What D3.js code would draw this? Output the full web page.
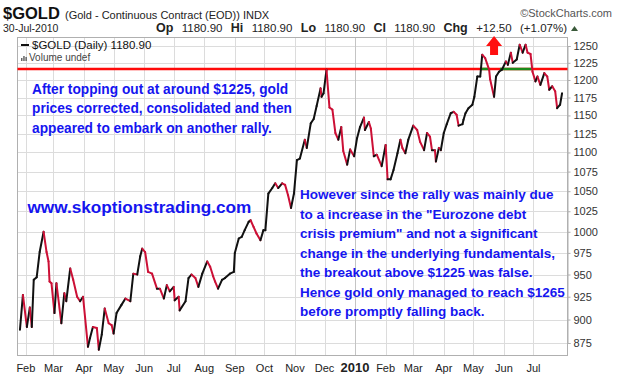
<!DOCTYPE html>
<html><head><meta charset="utf-8">
<script src="https://cdn.jsdelivr.net/npm/d3@7"></script>
<style>body{margin:0;background:#fff}svg{display:block}text{font-family:"Liberation Sans",Arial,sans-serif}</style>
</head><body><svg id="c" width="620" height="379"></svg>
<script>
// ---- data ----
const dates = ["2009-01-26","2009-01-29","2009-02-02","2009-02-05","2009-02-07","2009-02-09","2009-02-12","2009-02-15","2009-02-19","2009-02-22","2009-02-24","2009-02-25","2009-02-27","2009-03-02","2009-03-04","2009-03-09","2009-03-12","2009-03-14","2009-03-18","2009-03-21","2009-03-25","2009-03-28","2009-03-31","2009-04-05","2009-04-07","2009-04-10","2009-04-14","2009-04-16","2009-04-19","2009-04-22","2009-04-26","2009-04-29","2009-05-01","2009-05-04","2009-05-09","2009-05-13","2009-05-18","2009-05-21","2009-05-25","2009-05-28","2009-05-30","2009-06-02","2009-06-05","2009-06-09","2009-06-14","2009-06-17","2009-06-21","2009-06-24","2009-06-27","2009-07-01","2009-07-02","2009-07-06","2009-07-07","2009-07-13","2009-07-16","2009-07-19","2009-07-23","2009-07-26","2009-07-30","2009-08-04","2009-08-07","2009-08-10","2009-08-12","2009-08-15","2009-08-19","2009-08-22","2009-08-27","2009-08-31","2009-09-01","2009-09-05","2009-09-08","2009-09-11","2009-09-15","2009-09-17","2009-09-20","2009-09-23","2009-09-27","2009-09-30","2009-10-02","2009-10-05","2009-10-09","2009-10-12","2009-10-15","2009-10-19","2009-10-22","2009-10-25","2009-10-28","2009-10-31","2009-11-03","2009-11-06","2009-11-11","2009-11-13","2009-11-17","2009-11-20","2009-11-23","2009-11-27","2009-11-28","2009-11-30","2009-12-03","2009-12-06","2009-12-09","2009-12-12","2009-12-15","2009-12-18","2009-12-20","2009-12-24","2009-12-27","2009-12-31","2010-01-03","2010-01-06","2010-01-10","2010-01-11","2010-01-15","2010-01-17","2010-01-20","2010-01-23","2010-01-28","2010-02-01","2010-02-03","2010-02-06","2010-02-09","2010-02-13","2010-02-16","2010-02-18","2010-02-21","2010-02-24","2010-03-01","2010-03-05","2010-03-08","2010-03-12","2010-03-15","2010-03-18","2010-03-20","2010-03-23","2010-03-24","2010-03-27","2010-03-29","2010-04-01","2010-04-04","2010-04-08","2010-04-11","2010-04-14","2010-04-16","2010-04-20","2010-04-21","2010-04-23","2010-04-26","2010-04-30","2010-05-02","2010-05-05","2010-05-08","2010-05-10","2010-05-13","2010-05-17","2010-05-18","2010-05-22","2010-05-24","2010-05-27","2010-05-30","2010-06-03","2010-06-05","2010-06-08","2010-06-10","2010-06-14","2010-06-17","2010-06-20","2010-06-23","2010-06-25","2010-06-28","2010-06-30","2010-07-03","2010-07-05","2010-07-08","2010-07-12","2010-07-15","2010-07-17","2010-07-20","2010-07-23","2010-07-25","2010-07-28","2010-07-30"];
const prices = [889,927,892,913,892,944,947,976,1000,976,965,942,940,907,940,896,929,920,957,944,925,920,925,871,880,892,891,868,884,912,896,894,885,907,916,923,920,951,950,971,980,976,953,951,934,934,923,938,931,936,921,925,910,920,946,950,946,936,951,965,959,948,942,934,944,946,951,953,975,992,994,1002,1012,1014,1006,998,990,1002,1002,1047,1054,1060,1054,1060,1058,1045,1029,1047,1090,1092,1117,1106,1139,1145,1163,1188,1176,1181,1215,1161,1158,1126,1117,1134,1102,1084,1104,1095,1119,1134,1147,1130,1141,1132,1095,1097,1082,1110,1065,1065,1077,1099,1117,1106,1099,1117,1136,1130,1114,1103,1126,1121,1103,1103,1088,1106,1103,1126,1138,1153,1155,1151,1136,1138,1144,1153,1160,1165,1176,1205,1205,1237,1232,1215,1201,1176,1205,1212,1215,1227,1222,1240,1225,1230,1252,1240,1252,1240,1238,1212,1198,1205,1193,1210,1205,1186,1191,1184,1160,1165,1181];
const yTicks = [875,900,925,950,975,1000,1025,1050,1075,1100,1125,1150,1175,1200,1225,1250];
const monthTicks = ["2009-02-01","2009-03-01","2009-04-01","2009-05-01","2009-06-01","2009-07-01","2009-08-01","2009-09-01","2009-10-01","2009-11-01","2009-12-01","2010-01-01","2010-02-01","2010-03-01","2010-04-01","2010-05-01","2010-06-01","2010-07-01"];
const monthLabels = ["Feb","Mar","Apr","May","Jun","Jul","Aug","Sep","Oct","Nov","Dec","2010","Feb","Mar","Apr","May","Jun","Jul"];
const resistance = 1216;
const breakoutStarts = ["2010-05-08","2010-05-28"];
const breakoutEnds = ["2010-05-17","2010-06-29"];
const arrowDate = "2010-05-22";
const quoteParts = [["Op", true], [" 1180.90 ", false], ["Hi", true], [" 1180.90 ", false], ["Lo", true], [" 1180.90 ", false], ["Cl", true], [" 1180.90 ", false], ["Chg", true], [" +12.50 (+1.07%)", false]];
const noteTop = ["After topping out at around $1225, gold","prices corrected, consolidated and then","appeared to embark on another rally."];
const noteSite = "www.skoptionstrading.com";
const noteBottom = ["However since the rally was mainly due","to a increase in the \"Eurozone debt","crisis premium\" and not a significant","change in the underlying fundamentals,","the breakout above $1225 was false.","Hence gold only managed to reach $1265","before promptly falling back."];

// ---- layout ----
const svg = d3.select("#c");
const L = 17.5, R = 567.5, T = 37.5, B = 355.5;
const pd = s => new Date(s + "T00:00:00Z");
const x = d3.scaleUtc().domain([pd("2009-01-23"), pd("2010-08-04")]).range([17, 567]);
const y = d3.scaleLog().domain([875, 1250]).range([343, 46]);
const blue = "#1515f0", red = "#cc1036";

// gridlines
svg.append("g").selectAll("line").data(yTicks).join("line")
  .attr("x1", L).attr("x2", R).attr("y1", d => Math.round(y(d)) + 0.5).attr("y2", d => Math.round(y(d)) + 0.5)
  .attr("stroke", "#dcdcdc");
svg.append("g").selectAll("line").data(monthTicks).join("line")
  .attr("x1", d => Math.round(x(pd(d))) + 0.5).attr("x2", d => Math.round(x(pd(d))) + 0.5)
  .attr("y1", T).attr("y2", B)
  .attr("stroke", (d, i) => monthLabels[i] === "2010" ? "#c4c4c4" : "#dcdcdc");

// frame
svg.append("rect").attr("x", L).attr("y", T).attr("width", R - L).attr("height", B - T)
  .attr("fill", "none").attr("stroke", "#b0b0b0");

// right axis
const ax = svg.append("g").attr("transform", `translate(${R},0)`)
  .call(d3.axisRight(y).tickValues(yTicks).tickFormat(d3.format("d")).tickSize(3).tickPadding(3));
ax.select(".domain").attr("stroke", "#b0b0b0");
ax.selectAll(".tick line").attr("stroke", "#b0b0b0");
ax.selectAll("text").attr("font-size", 11).attr("fill", "#333").attr("font-family", "Liberation Sans, Arial, sans-serif");

// bottom month labels
svg.append("g").selectAll("text").data(monthTicks).join("text")
  .attr("x", d => x(pd(d))).attr("y", 372).attr("text-anchor", "middle")
  .attr("font-size", (d, i) => monthLabels[i] === "2010" ? 13 : 11)
  .attr("font-weight", (d, i) => monthLabels[i] === "2010" ? "bold" : "normal")
  .attr("fill", "#222").text((d, i) => monthLabels[i]);

// resistance line
svg.append("line").attr("x1", L).attr("x2", R).attr("y1", y(resistance)).attr("y2", y(resistance))
  .attr("stroke", "#ff0a0a").attr("stroke-width", 2.5);
svg.append("g").selectAll("line").data(breakoutStarts).join("line")
  .attr("x1", d => x(pd(d))).attr("x2", (d, i) => x(pd(breakoutEnds[i])))
  .attr("y1", y(resistance)).attr("y2", y(resistance))
  .attr("stroke", "#1a8a1a").attr("stroke-width", 2.5);

// price line: black up, red down
const pts = dates.map((d, i) => [x(pd(d)), y(prices[i])]);
svg.append("g").selectAll("line").data(d3.range(1, pts.length)).join("line")
  .attr("x1", i => pts[i - 1][0]).attr("y1", i => pts[i - 1][1])
  .attr("x2", i => pts[i][0]).attr("y2", i => pts[i][1])
  .attr("stroke", i => prices[i] >= prices[i - 1] ? "#111" : red)
  .attr("stroke-width", 2).attr("stroke-linecap", "round");

// red arrow
const ax0 = x(pd(arrowDate));
svg.append("path").attr("fill", "#ff1010")
  .attr("d", `M${ax0},36 L${ax0 + 8},46 L${ax0 + 4},46 L${ax0 + 4},55 L${ax0 - 4},55 L${ax0 - 4},46 L${ax0 - 8},46 Z`);

// header
const hd = svg.append("g");
hd.append("text").attr("x", 3).attr("y", 18.5).attr("font-size", 16.5).attr("font-weight", "bold").attr("fill", "#111").text("$GOLD");
hd.append("text").attr("x", 65).attr("y", 18.5).attr("font-size", 11).attr("fill", "#222").text("(Gold - Continuous Contract (EOD)) INDX");
hd.append("text").attr("x", 612).attr("y", 16.5).attr("text-anchor", "end").attr("font-size", 11).attr("fill", "#555").text("\u00a9StockCharts.com");
hd.append("text").attr("x", 3).attr("y", 32).attr("font-size", 10.5).attr("fill", "#222").text("30-Jul-2010");
const ohlc = hd.append("text").attr("x", 156).attr("y", 32).attr("fill", "#222").attr("xml:space", "preserve");
quoteParts.forEach(([t, b]) => ohlc.append("tspan").attr("font-weight", b ? "bold" : "normal").attr("font-size", b ? 12.5 : 11.5).text(t));
{
  const w = ohlc.node().getComputedTextLength();
  ohlc.attr("word-spacing", Math.max(0, (411 - w) / 10));
}
hd.append("path").attr("d", "M571,31 L574.5,26 L578,31 Z").attr("fill", "#3a5a3a");

// legend inside frame
svg.append("line").attr("x1", 21).attr("x2", 29).attr("y1", 45).attr("y2", 45).attr("stroke", "#111").attr("stroke-width", 2);
svg.append("text").attr("x", 32).attr("y", 49).attr("font-size", 11.5).attr("fill", "#111").text("$GOLD (Daily) 1180.90");
svg.append("g").selectAll("rect").data([3, 5, 4]).join("rect")
  .attr("x", (d, i) => 21 + i * 2.2).attr("y", d => 61 - d).attr("width", 1.5).attr("height", d => d).attr("fill", "#666");
svg.append("text").attr("x", 29).attr("y", 61).attr("font-size", 10).attr("fill", "#444").text("Volume undef");

// annotations
function fitBlock(lines, x0, y0, dy, target, size) {
  const g = svg.append("g");
  const t = g.selectAll("text").data(lines).join("text")
    .attr("x", x0).attr("y", (d, i) => y0 + i * dy).attr("font-weight", "bold").attr("fill", blue)
    .attr("font-size", size).text(d => d);
  const w = d3.max(t.nodes(), n => n.getComputedTextLength());
  t.attr("font-size", size * target / w);
}
fitBlock(noteTop, 32, 93.5, 19.5, 260, 12);
fitBlock([noteSite], 27.5, 213, 0, 224, 16);
fitBlock(noteBottom, 300, 199, 19.5, 265, 13);
</script></body></html>
